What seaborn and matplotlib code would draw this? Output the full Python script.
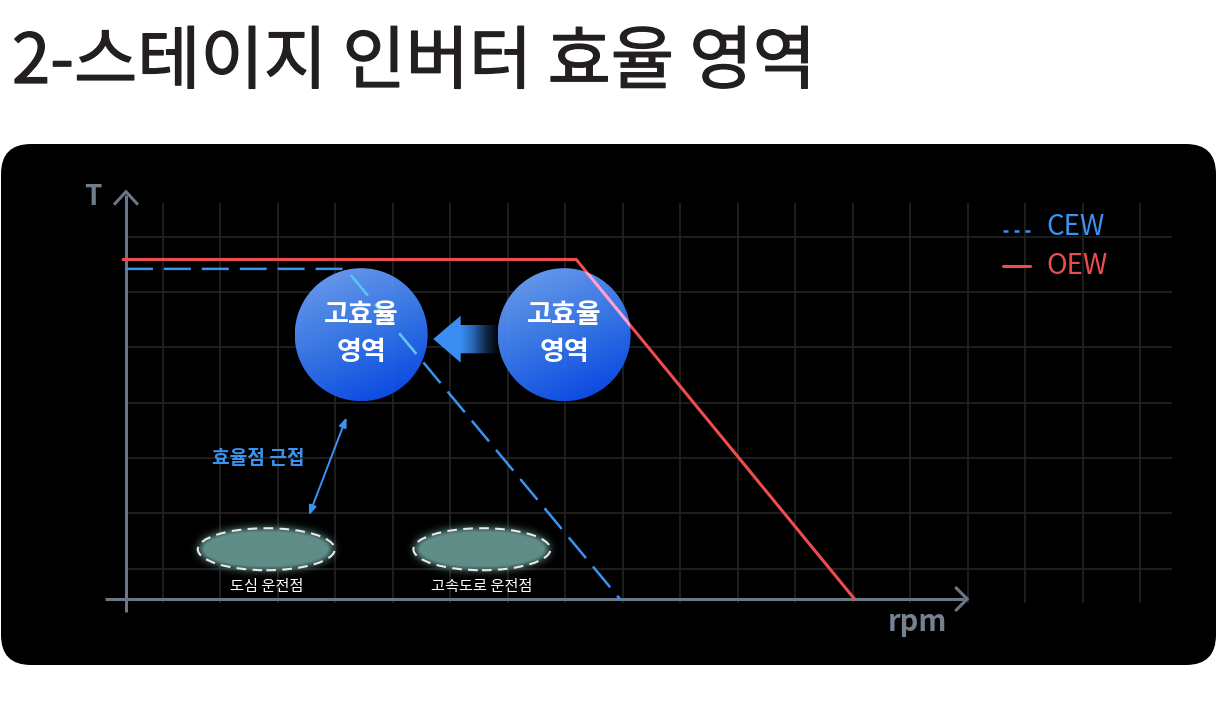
import numpy as np
import matplotlib
matplotlib.use('Agg')
import matplotlib.pyplot as plt
import matplotlib.patheffects as pe
import seaborn as sns
import pandas as pd
from matplotlib.patches import Ellipse, Polygon, FancyBboxPatch
from matplotlib.colors import LinearSegmentedColormap, to_rgb

# values, in grid units (x: rpm, y: torque T)
oew_rpm = [-0.05, 7.83, 12.67]
oew_torque = [6.14, 6.14, 0.0]
cew_rpm = [0.0, 3.82, 8.59]
cew_torque = [5.97, 5.97, 0.0]

zone_rpm = [4.09, 7.62]
zone_torque = [4.78, 4.78]
zone_lines = ['고효율', '영역']

op_rpm = [2.44, 6.19]
op_torque = [0.90, 0.90]
op_labels = ['도심 운전점', '고속도로 운전점']

grid_rpm = 0.643 + np.arange(18)
grid_torque = 0.548 + np.arange(7)

title = '2-스테이지 인버터 효율 영역'
near_label = '효율점 근접'
legend_names = ['CEW', 'OEW']

# colours
BLUE = '#3a93f0'
RED = '#ef4c4c'
AXIS_C = '#6b7787'
GRID_C = '#262626'

# pixel size of one grid unit (used for round shapes on a non-square grid)
PX_X = 57.5
PX_Y = 55.3

sns.set_style('white')
plt.rcParams['font.family'] = ['Noto Sans CJK KR', 'DejaVu Sans']
plt.rcParams['lines.scale_dashes'] = False

fig = plt.figure(figsize=(12.17, 7.26), dpi=100)
fig.patch.set_facecolor('white')

# background layer in pixel coordinates: title + black rounded panel
bg = fig.add_axes([0, 0, 1, 1])
bg.set_xlim(0, 1217)
bg.set_ylim(726, 0)
bg.axis('off')
bg.add_patch(FancyBboxPatch((1, 144), 1215, 521, boxstyle='round,pad=0,rounding_size=30',
                            fc='black', ec='none'))
bg.text(12, 83, title, fontsize=49.5, color='#231f20', va='baseline', ha='left',
        path_effects=[pe.withStroke(linewidth=0.9, foreground='#231f20')])

# main chart axes
L, R, T, B = 95, 1185, 175, 640
ax = fig.add_axes([L / 1217, (726 - B) / 726, (R - L) / 1217, (B - T) / 726])
ax.patch.set_visible(False)
ax.axis('off')

# grid
ax.vlines(grid_rpm, -0.07, 7.16, color=GRID_C, lw=1.1, zorder=1)
ax.hlines(grid_torque, 0, 18.2, color=GRID_C, lw=1.1, zorder=1)

# axes with chevron heads
ax_kw = dict(color=AXIS_C, lw=2.2, solid_capstyle='butt', solid_joinstyle='miter', zorder=2)
ax.plot([0, 0], [-0.235, 7.30], **ax_kw)
ax.plot([-12 / PX_X, 0, 12 / PX_X], [7.365 - 13 / PX_Y, 7.365, 7.365 - 13 / PX_Y], **ax_kw)
ax.plot([-0.365, 14.58], [0, 0], **ax_kw)
ax.plot([14.63 - 12 / PX_X, 14.63, 14.63 - 12 / PX_X], [12 / PX_Y, 0, -12 / PX_Y], **ax_kw)
ax.text(-0.73, 7.125, 'T', fontsize=20, weight='bold', color='#707c8c', va='baseline', ha='left')
ax.text(13.24, -0.578, 'rpm', fontsize=21, weight='bold', color='#75818f', va='baseline', ha='left')

# block arrow between the two zones (gradient fill, fading to the right)
arrow_px = [(433.3, 339), (460.7, 315.7), (460.7, 325), (500, 325),
            (500, 353.3), (460.7, 353.3), (460.7, 362.7)]
arrow_xy = [((x - 126) / PX_X, (599 - y) / PX_Y) for x, y in arrow_px]
arrow_poly = Polygon(arrow_xy, closed=True, fc='none', ec='none')
ax.add_patch(arrow_poly)
arrow_cmap = LinearSegmentedColormap.from_list(
    'arr', [(0, '#3d90f6'), (0.42, '#3a8cf2'), (0.6, '#2766b4'), (0.8, '#0e2644'), (1.0, '#000000')])
xs = [p[0] for p in arrow_xy]
ys = [p[1] for p in arrow_xy]
im = ax.imshow(np.linspace(0, 1, 200)[None, :], cmap=arrow_cmap, aspect='auto', zorder=2,
               extent=[min(xs), max(xs), min(ys), max(ys)])
im.set_clip_path(arrow_poly)

# high-efficiency zones: gradient circles
zone_cmap = LinearSegmentedColormap.from_list('zone', ['#78aafb', '#3a7df4', '#0243f0'])
u = np.linspace(0, 1, 200)
U, V = np.meshgrid(u, u)
zone_grad = 0.3 * U + 0.7 * V
RAD = 66.5
circles = []
for cx, cy in zip(zone_rpm, zone_torque):
    w, h = 2 * RAD / PX_X, 2 * RAD / PX_Y
    circ = Ellipse((cx, cy), w, h, fc='none', ec='none')
    ax.add_patch(circ)
    im = ax.imshow(zone_grad, cmap=zone_cmap, aspect='auto', alpha=0.94, zorder=3,
                   extent=[cx - w / 2, cx + w / 2, cy - h / 2, cy + h / 2])
    im.set_clip_path(circ)
    circles.append(circ)
    ax.text(cx, cy + 19.5 / PX_Y, zone_lines[0], fontsize=19.5, weight='bold', color='white',
            ha='center', va='center', zorder=7)
    ax.text(cx, cy - 17.5 / PX_Y, zone_lines[1], fontsize=19.5, weight='bold', color='white',
            ha='center', va='center', zorder=7)

# capability curves
cew_dash = (0, (19.4, 7.9))
df_oew = pd.DataFrame({'rpm': oew_rpm, 'torque': oew_torque})
df_cew = pd.DataFrame({'rpm': cew_rpm, 'torque': cew_torque})
sns.lineplot(data=df_oew, x='rpm', y='torque', color=RED, linewidth=2.2, sort=False,
             estimator=None, ax=ax, zorder=4)
sns.lineplot(data=df_cew, x='rpm', y='torque', color=BLUE, linewidth=1.8, linestyle=cew_dash,
             sort=False, estimator=None, ax=ax, zorder=4)
# lighter tint where the curves cross the zones
sns.lineplot(data=df_oew, x='rpm', y='torque', color='#f4a3dc', linewidth=2.2, sort=False,
             estimator=None, ax=ax, zorder=5)
ax.lines[-1].set_clip_path(circles[1])
sns.lineplot(data=df_cew, x='rpm', y='torque', color='#5cc6f6', linewidth=1.8, linestyle=cew_dash,
             sort=False, estimator=None, ax=ax, zorder=5)
ax.lines[-1].set_clip_path(circles[0])

# operating points: glowing ellipses with dashed outline
def glow(cx, cy):
    hw, hh, pad = 67, 20, 22
    gx = np.arange(-hw - pad, hw + pad + 1)
    gy = np.arange(-hh - pad, hh + pad + 1)
    X, Y = np.meshgrid(gx, gy)
    mask = ((X / hw) ** 2 + (Y / hh) ** 2 <= 1).astype(float)
    k = np.arange(-14, 15)
    g = np.exp(-k ** 2 / (2 * 5.0 ** 2))
    g /= g.sum()
    b = np.apply_along_axis(lambda r: np.convolve(r, g, 'same'), 1, mask)
    b = np.apply_along_axis(lambda c: np.convolve(c, g, 'same'), 0, b)
    rgba = np.zeros(mask.shape + (4,))
    rgba[..., :3] = to_rgb('#5f8d87')
    rgba[..., 3] = np.clip(b * 1.45, 0, 1)
    ax.imshow(rgba, aspect='auto', zorder=2, interpolation='bilinear',
              extent=[cx - (hw + pad) / PX_X, cx + (hw + pad) / PX_X,
                      cy - (hh + pad) / PX_Y, cy + (hh + pad) / PX_Y])

for cx, cy, lab in zip(op_rpm, op_torque, op_labels):
    glow(cx, cy)
    ax.add_patch(Ellipse((cx, cy), 2 * 68.5 / PX_X, 2 * 21 / PX_Y, fill=False, ec='#e8e8e8',
                         lw=1.5, ls=(0, (7, 4.5)), zorder=3))
    ax.text(cx, cy - 37.7 / PX_Y, lab, fontsize=11, color='white', ha='center', va='center',
            zorder=6)

# "close to efficiency point" double arrow
ax.annotate('', xy=(3.835, 3.284), xytext=(3.183, 1.515),
            arrowprops=dict(arrowstyle='<|-|>,head_length=0.55,head_width=0.22', color=BLUE,
                            lw=1.4, shrinkA=0, shrinkB=0), zorder=6)
ax.text(2.30, 2.54, near_label, fontsize=13.8, weight='bold', color=BLUE, ha='center',
        va='center', zorder=6)

# legend drawn by hand (short dashes for CEW like the original)
ax.plot([15.25, 15.72], [6.66, 6.66], color=BLUE, lw=1.8, linestyle=(0, (3.6, 4.3)), zorder=6)
ax.plot([15.25, 15.72], [6.03, 6.03], color=RED, lw=2.2, zorder=6)
ax.text(16.0, 6.582, legend_names[0], fontsize=20, color=BLUE, va='baseline', ha='left')
ax.text(16.0, 5.877, legend_names[1], fontsize=20, color=RED, va='baseline', ha='left')

ax.set_xlim((L - 126) / PX_X, (R - 126) / PX_X)
ax.set_ylim((599 - B) / PX_Y, (599 - T) / PX_Y)

fig.savefig('out.png', dpi=100, facecolor='white')
